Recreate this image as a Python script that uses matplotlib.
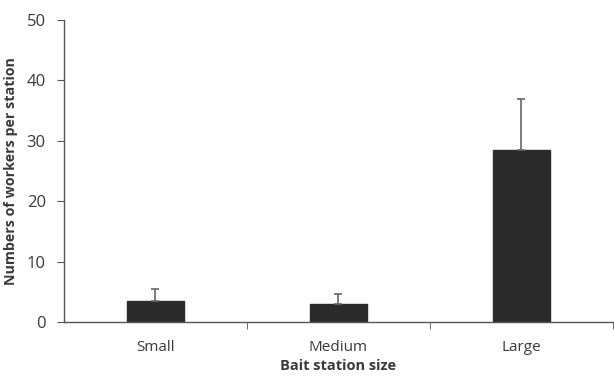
import matplotlib
matplotlib.use('Agg')
import numpy as np
from matplotlib import pyplot as plt

# Data
categories = ['Small', 'Medium', 'Large']
means = [3.5, 3.0, 28.5]
errors = [1.9, 1.6, 8.4]

plt.rcParams['font.family'] = ['Open Sans', 'DejaVu Sans']
text_col = '#3a3a3a'

fig = plt.figure(figsize=(6.14, 3.77), dpi=100)
ax = fig.add_axes([0.104, 0.146, 0.894, 0.801])

x = np.arange(len(categories))
ax.bar(x, means, width=0.31, color='#2b2b2b', edgecolor='#2b2b2b', zorder=2)
ax.errorbar(x, means, yerr=[np.zeros(len(errors)), errors], fmt='none',
            ecolor='#666666', elinewidth=1.2, capsize=3, capthick=1.2, zorder=3)

ax.set_xlim(-0.5, 2.5)
ax.set_ylim(0, 50)
ax.set_yticks(range(0, 51, 10))
ax.set_xticks(x)
ax.set_xticklabels(categories)
ax.set_xticks([0.5, 1.5, 2.5], minor=True)
ax.tick_params(axis='x', which='major', length=0, pad=13, labelsize=11, labelcolor=text_col)
ax.tick_params(axis='x', which='minor', length=5, direction='out', color='#555555')
ax.tick_params(axis='y', length=5, direction='out', color='#555555', pad=8,
               labelsize=12, labelcolor=text_col)

for side in ['top', 'right']:
    ax.spines[side].set_visible(False)
for side in ['left', 'bottom']:
    ax.spines[side].set_color('#555555')
    ax.spines[side].set_linewidth(1.0)

ax.set_xlabel('Bait station size', fontsize=10.5, fontweight='bold', color=text_col, labelpad=3)
ax.set_ylabel('Numbers of workers per station', fontsize=10.3, fontweight='bold', color=text_col, labelpad=6)

plt.savefig('out.png', dpi=100)
plt.close()
